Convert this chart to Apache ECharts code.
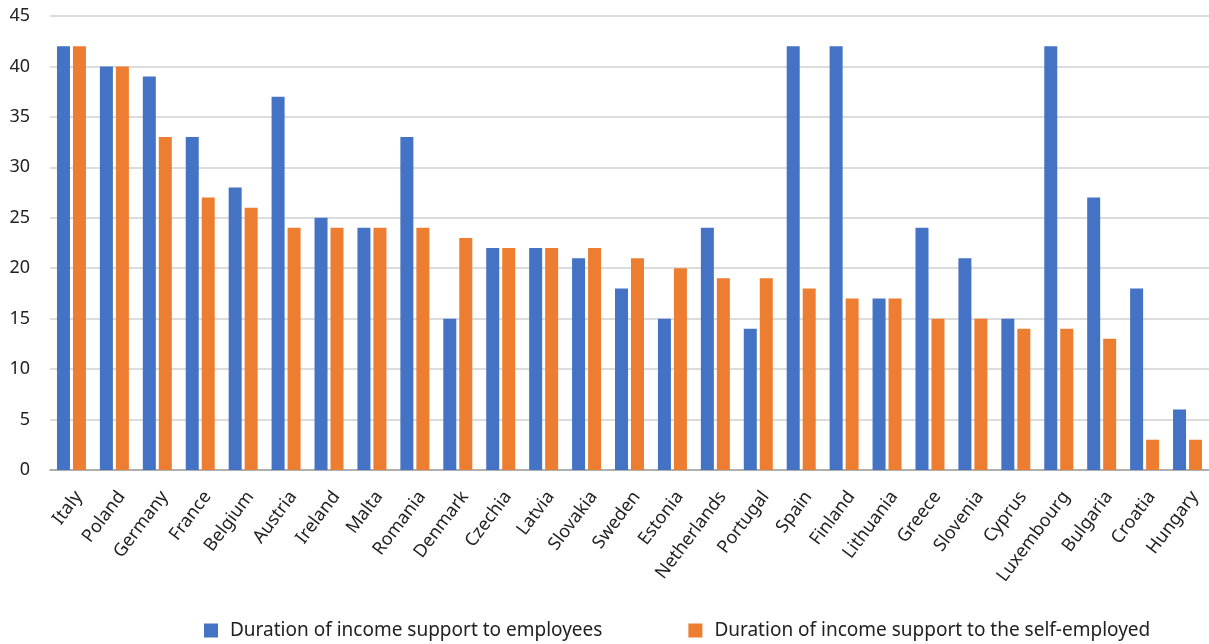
<!DOCTYPE html>
<html><head><meta charset="utf-8">
<script src="https://cdn.jsdelivr.net/npm/echarts@6/dist/echarts.min.js"></script>
<style>html,body{margin:0;padding:0;background:#fff}#c{width:1209px;height:644px}</style>
</head><body><div id="c"></div>
<script>
const categories = ["Italy","Poland","Germany","France","Belgium","Austria","Ireland","Malta","Romania","Denmark","Czechia","Latvia","Slovakia","Sweden","Estonia","Netherlands","Portugal","Spain","Finland","Lithuania","Greece","Slovenia","Cyprus","Luxembourg","Bulgaria","Croatia","Hungary"];
const employees = [42,40,39,33,28,37,25,24,33,15,22,22,21,18,15,24,14,42,42,17,24,21,15,42,27,18,6];
const selfEmployed = [42,40,33,27,26,24,24,24,24,23,22,22,22,21,20,19,19,18,17,17,15,15,14,14,13,3,3];
const seriesNames = ["Duration of income support to employees","Duration of income support to the self-employed"];

const font = "'Noto Sans', sans-serif";
const chart = echarts.init(document.getElementById('c'), null, {renderer:'canvas'});
chart.setOption({
  animation:false,
  textStyle:{fontFamily:font},
  grid:{left:50,right:0,top:16,bottom:174,containLabel:false},
  legend:{
    bottom:-1, left:199, itemWidth:14, itemHeight:14, itemGap:86,
    icon:'rect',
    textStyle:{fontFamily:font,fontSize:19,color:'#222',padding:[0,0,0,7]},
    data:seriesNames
  },
  xAxis:{
    type:'category', data:categories,
    axisLine:{lineStyle:{color:'#a0a0a0',width:1.5}},
    axisTick:{show:false},
    axisLabel:{rotate:53,interval:0,fontSize:18,color:'#222',fontFamily:font,margin:18,verticalAlign:'top'}
  },
  yAxis:{
    type:'value', min:0, max:45, interval:5,
    axisLine:{show:false}, axisTick:{show:false},
    splitLine:{lineStyle:{color:'#d0d0d0',width:1.5}},
    axisLabel:{fontSize:18,color:'#222',fontFamily:font,margin:20}
  },
  series:[
    {name:seriesNames[0],type:'bar',data:employees,barWidth:13,barGap:'23%',itemStyle:{color:'#4472C4'}},
    {name:seriesNames[1],type:'bar',data:selfEmployed,barWidth:13,barGap:'23%',itemStyle:{color:'#ED7D31'}}
  ]
});
</script></body></html>
